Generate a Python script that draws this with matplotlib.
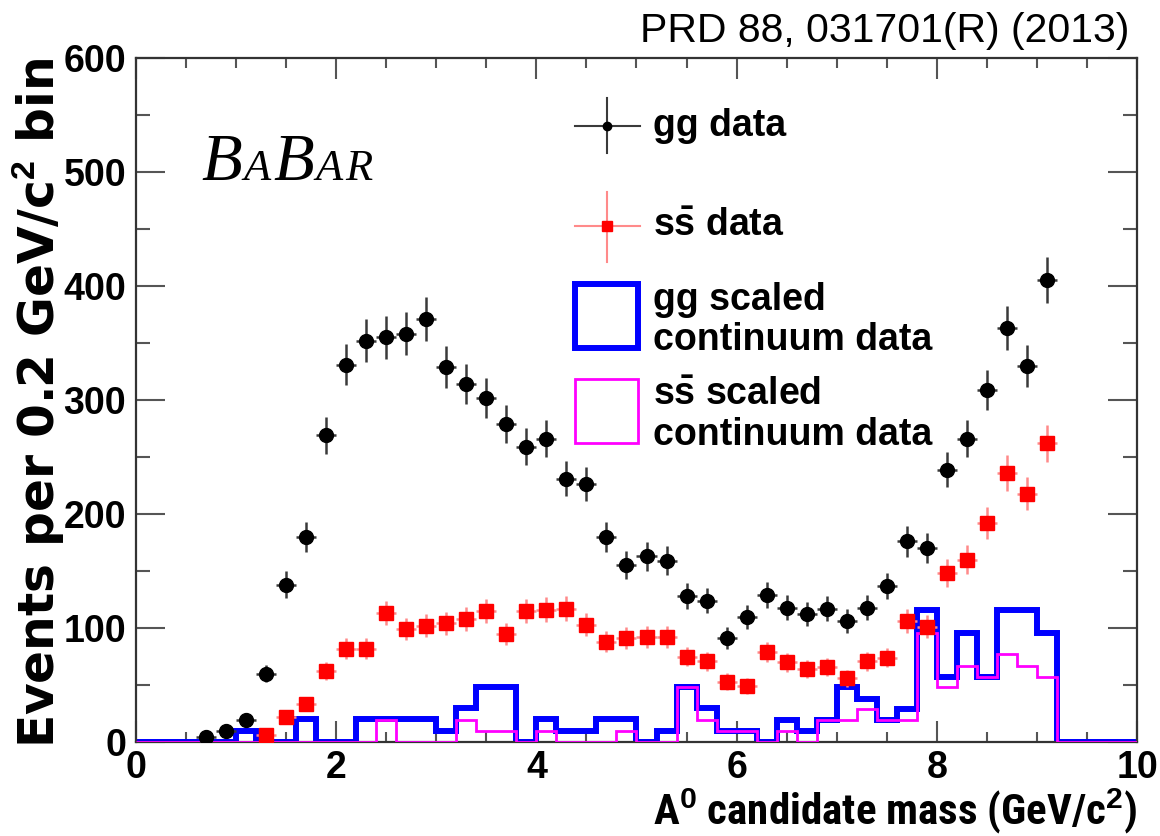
import numpy as np
import matplotlib
matplotlib.use('Agg')
import matplotlib.pyplot as plt
from matplotlib.ticker import MultipleLocator
from matplotlib.patches import Rectangle

plt.rcParams['mathtext.fontset'] = 'custom'
plt.rcParams['mathtext.rm'] = 'Liberation Sans:bold'
plt.rcParams['mathtext.bf'] = 'Liberation Sans:bold'
plt.rcParams['mathtext.it'] = 'Liberation Sans:bold:italic'

SANS = ['Liberation Sans', 'DejaVu Sans']
NARROW = ['Liberation Sans Narrow', 'Roboto Condensed', 'Noto Sans']

# --- data (0.2 GeV bins, 0-10 GeV) ---
edges = np.linspace(0, 10, 51)

gg_mass = np.round(np.arange(0.7, 9.15, 0.2), 1)
gg_data = [4, 10, 19, 60, 138, 180, 269, 331, 352, 355, 358, 371, 329, 314, 302,
           279, 259, 266, 231, 226, 180, 155, 163, 159, 128, 124, 91, 110, 129,
           118, 112, 117, 106, 118, 137, 176, 170, 239, 266, 309, 363, 330, 405]
gg_err = [2.0, 3.2, 4.4, 7.7, 11.7, 13.4, 16.4, 18.2, 18.8, 18.8, 18.9, 19.3, 18.1,
          17.7, 17.4, 16.7, 16.1, 16.3, 15.2, 15.0, 13.4, 12.4, 12.8, 12.6, 11.3,
          11.1, 9.5, 10.5, 11.4, 10.9, 10.6, 10.8, 10.3, 10.9, 11.7, 13.3, 13.0,
          15.5, 16.3, 17.6, 19.1, 18.2, 20.1]

ss_mass = np.round(np.arange(1.3, 9.15, 0.2), 1)
ss_data = [6, 22, 33, 62, 82, 82, 113, 99, 102, 104, 108, 115, 95, 115, 116, 117,
           103, 88, 91, 92, 92, 75, 71, 53, 49, 79, 70, 64, 66, 56, 71, 74, 106,
           101, 148, 160, 192, 236, 218, 262]
ss_err = [2.4, 4.7, 5.7, 7.9, 9.1, 9.1, 10.6, 9.9, 10.1, 10.2, 10.4, 10.7, 9.7,
          10.7, 10.8, 10.8, 10.1, 9.4, 9.5, 9.6, 9.6, 8.7, 8.4, 7.3, 7.0, 8.9, 8.4,
          8.0, 8.1, 7.5, 8.4, 8.6, 10.3, 10.0, 12.2, 12.6, 13.9, 15.4, 14.8, 16.2]

gg_cont = [0, 0, 0, 0, 0, 10, 0, 0, 20, 0, 0, 20, 20, 20, 20, 10, 30, 48, 48, 0,
           20, 10, 10, 20, 20, 0, 10, 48, 30, 10, 10, 0, 19, 10, 19, 48, 38, 19, 29,
           116, 57, 96, 57, 116, 116, 96, 0, 0, 0, 0]
ss_cont = [0, 0, 0, 0, 0, 0, 0, 0, 0, 0, 0, 0, 19, 0, 0, 0, 19, 10, 10, 0,
           10, 0, 0, 0, 10, 0, 0, 48, 19, 10, 10, 0, 10, 0, 19, 19, 29, 19, 19,
           96, 48, 67, 57, 77, 67, 57, 0, 0, 0, 0]

fig = plt.figure(figsize=(11.6, 8.36), dpi=100)
ax = fig.add_axes([0.1172, 0.1124, 0.8630, 0.8182])

ax.stairs(gg_cont, edges, color='#0000ff', linewidth=4.3, zorder=2)
ax.stairs(ss_cont, edges, color='#ff00ff', linewidth=2.0, zorder=3)

ax.errorbar(gg_mass, gg_data, xerr=0.1, yerr=gg_err, fmt='o', color='black',
            ms=10, ecolor='#3a3a3a', elinewidth=1.8, capsize=0, zorder=4)
ax.errorbar(ss_mass, ss_data, xerr=0.1, yerr=ss_err, fmt='s', color='#ff0000',
            ms=9.5, ecolor='#ff8a8a', elinewidth=1.8, capsize=0, zorder=5)

ax.set_xlim(0, 10)
ax.set_ylim(0, 600)
ax.xaxis.set_major_locator(MultipleLocator(2))
ax.xaxis.set_minor_locator(MultipleLocator(0.5))
ax.yaxis.set_major_locator(MultipleLocator(100))
ax.yaxis.set_minor_locator(MultipleLocator(50))
ax.tick_params(which='both', direction='in', top=True, right=True,
               color='#555555', width=1.5)
ax.tick_params(axis='x', which='major', length=15, pad=6)
ax.tick_params(axis='x', which='minor', length=7)
ax.tick_params(axis='y', which='major', length=21, pad=7)
ax.tick_params(axis='y', which='minor', length=10)
for lab in ax.get_xticklabels() + ax.get_yticklabels():
    lab.set_family(SANS)
    lab.set_fontweight('bold')
    lab.set_fontsize(27)
for sp in ax.spines.values():
    sp.set_linewidth(1.6)
    sp.set_color('#333333')

ax.set_xlabel(r'A$^{0}$ candidate mass (GeV/c$^{2}$)', loc='right',
              family=NARROW, fontstretch='condensed', fontweight='bold',
              fontsize=31, labelpad=0)
ax.set_ylabel(r'Events per 0.2 GeV/c$^{2}$ bin', loc='top',
              family=['DejaVu Sans'], fontweight='bold', fontsize=35,
              labelpad=-2)

# BABAR logo, small caps placed letter by letter on one baseline
logo_x, logo_y = 0.065, 0.822
fig.canvas.draw()
for ch, fs in [('B', 48), ('A', 32), ('B', 48), ('A', 32), ('R', 32)]:
    t = ax.text(logo_x, logo_y, ch, transform=ax.transAxes, fontsize=fs,
                family='Liberation Serif', style='italic', va='baseline')
    bb = t.get_window_extent(renderer=fig.canvas.get_renderer())
    logo_x = ax.transAxes.inverted().transform((bb.x1, bb.y0))[0] + 0.002

# legend drawn by hand
tr = ax.transAxes
ax.plot([0.4386, 0.5035], [0.9006, 0.9006], color='#3a3a3a', lw=1.5, transform=tr)
ax.plot([0.4705, 0.4705], [0.8611, 0.9415], color='#3a3a3a', lw=1.5, transform=tr)
ax.plot([0.4705], [0.9006], 'o', color='black', ms=6, transform=tr)
ax.plot([0.4386, 0.5035], [0.7544, 0.7544], color='#ff8a8a', lw=1.5, transform=tr)
ax.plot([0.4705, 0.4705], [0.7018, 0.8041], color='#ff8a8a', lw=1.5, transform=tr)
ax.plot([0.4705], [0.7544], 's', color='#ff0000', ms=7, transform=tr)
ax.add_patch(Rectangle((0.4386, 0.5760), 0.0630, 0.0940, transform=tr,
                       fill=False, edgecolor='#0000ff', lw=4.3))
ax.add_patch(Rectangle((0.4386, 0.4370), 0.0630, 0.0940, transform=tr,
                       fill=False, edgecolor='#ff00ff', lw=2.0))
leg_kw = dict(transform=tr, fontsize=27, fontweight='bold', family=SANS,
              va='center', ha='left', linespacing=1.15)
ax.text(0.5165, 0.9006, 'gg data', **leg_kw)
ax.text(0.5165, 0.7544, r'$\mathbf{s\bar{s}}$ data', **leg_kw)
ax.text(0.5165, 0.6170, 'gg scaled\ncontinuum data', **leg_kw)
ax.text(0.5165, 0.4781, r'$\mathbf{s\bar{s}}$ scaled' + '\ncontinuum data', **leg_kw)

fig.text(0.974, 0.986, 'PRD 88, 031701(R) (2013)', ha='right', va='top',
         fontsize=29.5, family=SANS)

fig.savefig('out.png', dpi=100)
